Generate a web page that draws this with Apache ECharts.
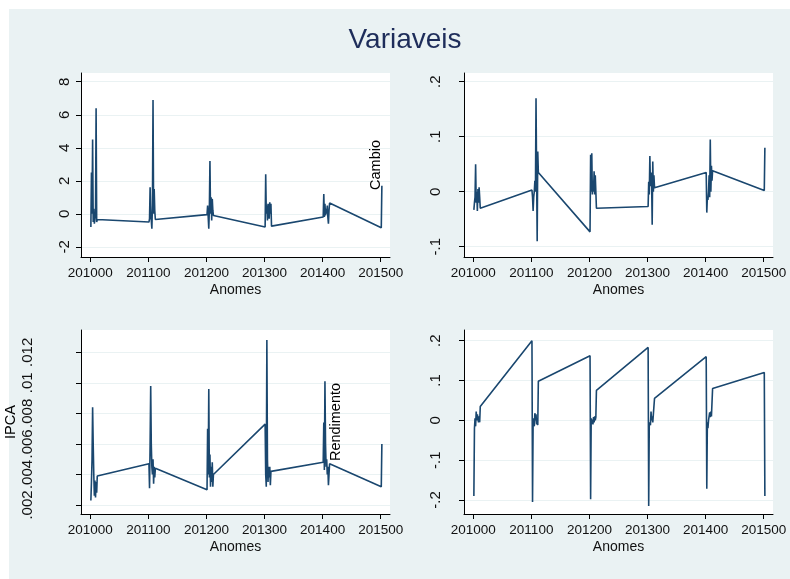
<!DOCTYPE html>
<html>
<head>
<meta charset="utf-8">
<script src="https://cdn.jsdelivr.net/npm/echarts@6/dist/echarts.min.js"></script>
<style>
  html, body { margin: 0; padding: 0; background: #fff; }
  #chart { width: 790px; height: 579px; }
</style>
</head>
<body>
<div id="chart"></div>
<script>
// anomes (yyyymm as a plain number, as in the source data)
var anomes = [
  201001, 201002, 201003, 201004, 201005, 201006, 201007, 201008, 201009, 201010, 201011, 201012,
  201101, 201102, 201103, 201104, 201105, 201106, 201107, 201108, 201109, 201110, 201111, 201112,
  201201, 201202, 201203, 201204, 201205, 201206, 201207, 201208, 201209, 201210, 201211, 201212,
  201301, 201302, 201303, 201304, 201305, 201306, 201307, 201308, 201309, 201310, 201311, 201312,
  201401, 201402, 201403, 201404, 201405, 201406, 201407, 201408, 201409, 201410, 201411, 201412,
  201501, 201502
];

// top-left panel
var serieA = [
  -0.8, 2.5, 0.0, 4.5, -0.5, 0.3, -0.6, -0.3, 0.0, 6.4, -0.5, -0.35,
  -0.5, -0.3, 1.6, 0.0, -0.4, -0.9, 0.5, 6.9, 0.0, 1.5, 0.2, -0.35,
  -0.05, 0.5, -0.2, -0.9, 0.3, 3.2, 0.0, 1.0, -0.4, 0.9, 0.2, -0.1,
  -0.8, 2.4, 0.0, 0.5, -0.4, 0.6, 0.1, -0.3, 0.7, 0.0, 0.6, -0.75,
  -0.2, 1.2, -0.2, 0.6, -0.1, 0.3, 0.0, 0.5, -0.2, -0.6, 0.2, 0.65,
  -0.85, 1.7
];

// Cambio
var cambio = [
  -0.033, -0.02, -0.01, 0.05, -0.02, 0.0, -0.035, 0.005, -0.02, 0.008, -0.01, -0.03,
  0.003, -0.01, -0.035, -0.01, 0.0, 0.02, 0.0, 0.17, 0.03, -0.09, 0.073, 0.035,
  -0.073, 0.067, 0.0, 0.07, -0.005, 0.02, 0.0, 0.037, -0.005, 0.03, 0.0, -0.03,
  -0.027, 0.018, -0.005, 0.065, 0.01, 0.035, 0.02, -0.06, 0.055, 0.0, 0.03, 0.007,
  0.035, -0.038, -0.01, -0.015, 0.0, 0.03, -0.01, 0.095, 0.0, 0.047, 0.02, 0.038,
  0.002, 0.08
];

// IPCA
var ipca = [
  0.0023, 0.0035, 0.0050, 0.0084, 0.0060, 0.0040, 0.0026, 0.0036, 0.0025, 0.0035, 0.0028, 0.0039,
  0.0047, 0.0031, 0.0060, 0.0098, 0.0060, 0.0045, 0.0040, 0.0050, 0.0034, 0.0045, 0.0038, 0.0044,
  0.0030, 0.0070, 0.0040, 0.0096, 0.0038, 0.0053, 0.0032, 0.0045, 0.0035, 0.0048, 0.0032, 0.0040,
  0.0073, 0.0040, 0.0032, 0.0128, 0.0050, 0.0035, 0.0045, 0.0038, 0.0045, 0.0033, 0.0042, 0.0041,
  0.0048, 0.0074, 0.0043, 0.0101, 0.0060, 0.0045, 0.0050, 0.0040, 0.0045, 0.0033, 0.0040, 0.0047,
  0.0032, 0.0060
];

// Rendimento
var rendimento = [
  -0.19, -0.02, 0.005, -0.015, 0.022, 0.0, 0.015, 0.01, -0.005, 0.01, -0.005, 0.035,
  0.2, -0.205, -0.005, 0.005, -0.015, 0.018, 0.0, 0.015, -0.01, 0.005, -0.012, 0.098,
  0.162, -0.198, 0.005, -0.008, 0.002, -0.01, 0.008, -0.005, 0.01, 0.0, 0.008, 0.075,
  0.183, -0.215, -0.005, 0.0, -0.012, 0.022, 0.0, 0.01, -0.005, 0.015, 0.01, 0.055,
  0.16, -0.172, -0.005, -0.02, 0.0, 0.01, 0.02, 0.008, 0.022, 0.01, 0.015, 0.08,
  0.12, -0.19
];

// tick labels
var xTicks = [201000, 201100, 201200, 201300, 201400, 201500];
var yTicksA = [-2, 0, 2, 4, 6, 8];
var yTicksCambio = [-0.1, 0, 0.1, 0.2];
var yTicksIpca = [0.002, 0.004, 0.006, 0.008, 0.01, 0.012];
var yTicksRend = [-0.2, -0.1, 0, 0.1, 0.2];

var FONT = "'Liberation Sans', Arial, sans-serif";
var LINE = '#1a476f';
var GRIDC = '#eaf2f3';

function pairs(ys) {
  return anomes.map(function (x, i) { return [x, ys[i]]; });
}

// stata style: .2  -.1  .012
function stataNum(v) {
  var s = String(+v.toFixed(4));
  return s.replace(/^(-?)0\./, '$1.');
}

var grids = [
  { left: 81, top: 73, width: 309, height: 184 },
  { left: 464, top: 73, width: 309, height: 184 },
  { left: 81, top: 330, width: 309, height: 184 },
  { left: 464, top: 330, width: 309, height: 184 }
].map(function (g) {
  return Object.assign({ show: true, backgroundColor: '#fff', borderWidth: 0 }, g);
});

function xAx(i) {
  return {
    type: 'value', gridIndex: i, min: 200984, max: 201516,
    name: 'Anomes', nameLocation: 'middle', nameGap: 26,
    nameTextStyle: { fontFamily: FONT, fontSize: 14, color: '#111' },
    axisLine: { show: true, onZero: false, lineStyle: { color: '#000', width: 1 } },
    axisTick: { show: true, length: 5, customValues: xTicks, lineStyle: { color: '#000' } },
    axisLabel: { customValues: xTicks, margin: 9, fontFamily: FONT, fontSize: 13.5, color: '#111',
                 formatter: function (v) { return String(v); },
                 showMinLabel: true, showMaxLabel: true, hideOverlap: false },
    splitLine: { show: false }
  };
}

function yAx(i, min, max, ticks, margin, name, gap) {
  return {
    type: 'value', gridIndex: i, min: min, max: max,
    name: name || '', nameLocation: 'middle', nameGap: gap || 0,
    nameTextStyle: { fontFamily: FONT, fontSize: 14.5, color: '#000' },
    axisLine: { show: true, onZero: false, lineStyle: { color: '#000', width: 1 } },
    axisTick: { show: true, length: 5, customValues: ticks, lineStyle: { color: '#000' } },
    axisLabel: { customValues: ticks, rotate: 90, margin: margin, fontFamily: FONT, fontSize: 15,
                 color: '#111', formatter: stataNum, hideOverlap: false },
    splitLine: { show: true, lineStyle: { color: GRIDC, width: 1 } }
  };
}

function lineSeries(i, ys) {
  return {
    type: 'line', xAxisIndex: i, yAxisIndex: i, data: pairs(ys),
    showSymbol: false, symbol: 'none', animation: false,
    lineStyle: { color: LINE, width: 1.6 }
  };
}

var chart = echarts.init(document.getElementById('chart'), null, { renderer: 'canvas' });
chart.setOption({
  animation: false,
  backgroundColor: '#fff',
  graphic: [
    { type: 'rect', z: -10, shape: { x: 9, y: 9, width: 781, height: 570 }, style: { fill: '#eaf2f3' } },
    { type: 'text', x: 405, y: 40,
      style: { text: 'Variaveis', fontFamily: FONT, fontSize: 28, fill: '#1e2d5a',
               textAlign: 'center', textVerticalAlign: 'middle' } }
  ],
  grid: grids,
  xAxis: [xAx(0), xAx(1), xAx(2), xAx(3)],
  yAxis: [
    yAx(0, -2.62, 8.53, yTicksA, 8.5),
    yAx(1, -0.1187, 0.2158, yTicksCambio, 20.5, 'Cambio', 81),
    yAx(2, 0.00141, 0.01346, yTicksIpca, 45.5, 'IPCA', 63),
    yAx(3, -0.2352, 0.2269, yTicksRend, 20.5, 'Rendimento', 121)
  ],
  series: [
    lineSeries(0, serieA),
    lineSeries(1, cambio),
    lineSeries(2, ipca),
    lineSeries(3, rendimento)
  ]
});
window.addEventListener('resize', function () { chart.resize(); });
</script>
</body>
</html>
